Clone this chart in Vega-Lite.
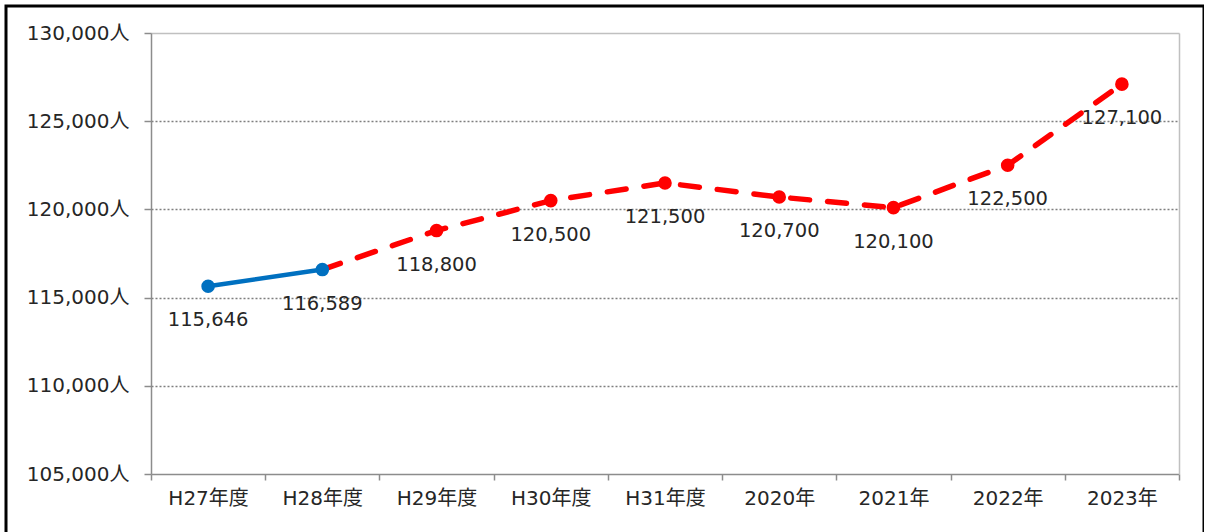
{
  "$schema": "https://vega.github.io/schema/vega-lite/v6.json",
  "width": 1198,
  "height": 528,
  "autosize": {"type": "none"},
  "padding": {"left": 6, "top": 6, "right": 0, "bottom": 0},
  "background": "white",
  "config": {
    "view": {"stroke": "#000000", "strokeWidth": 3},
    "font": "DejaVu Sans"
  },
  "data": {
    "values": [
      {"year": "H27年度", "actual": 115646, "label": 115646},
      {"year": "H28年度", "actual": 116589, "forecast": 116589, "label": 116589},
      {"year": "H29年度", "forecast": 118800, "label": 118800},
      {"year": "H30年度", "forecast": 120500, "label": 120500},
      {"year": "H31年度", "forecast": 121500, "label": 121500},
      {"year": "2020年", "forecast": 120700, "label": 120700},
      {"year": "2021年", "forecast": 120100, "label": 120100},
      {"year": "2022年", "forecast": 122500, "label": 122500},
      {"year": "2023年", "forecast": 127100, "label": 127100}
    ]
  },
  "encoding": {
    "x": {
      "field": "year",
      "type": "nominal",
      "sort": ["H27年度", "H28年度", "H29年度", "H30年度", "H31年度", "2020年", "2021年", "2022年", "2023年"],
      "scale": {"type": "band", "domain": ["H27年度", "H28年度", "H29年度", "H30年度", "H31年度", "2020年", "2021年", "2022年", "2023年"], "range": [145, 1173], "paddingInner": 0, "paddingOuter": 0},
      "axis": {
        "title": null,
        "orient": "bottom",
        "offset": -60,
        "tickBand": "extent",
        "labelAngle": 0,
        "labelFont": "DejaVu Sans, Noto Sans CJK JP",
        "labelFontSize": 20,
        "labelColor": "#262626",
        "labelPadding": 8,
        "tickSize": 6,
        "tickColor": "#8c8c8c",
        "tickWidth": 1.5,
        "domainColor": "#8c8c8c",
        "domainWidth": 1.5,
        "grid": false
      }
    }
  },
  "layer": [
    {
      "transform": [{"filter": "datum.forecast != null"}],
      "mark": {"type": "line", "color": "#FF0000", "strokeWidth": 5.5, "strokeDash": [19, 18], "strokeCap": "round"},
      "encoding": {
        "y": {
          "field": "forecast",
          "type": "quantitative",
          "scale": {"domain": [105000, 130000], "range": [468, 27], "nice": false, "zero": false},
          "axis": {
            "title": null,
            "orient": "left",
            "offset": -145,
            "values": [105000, 110000, 115000, 120000, 125000, 130000],
            "labelExpr": "format(datum.value, ',') + '人'",
            "labelFont": "DejaVu Sans, Noto Sans CJK JP",
            "labelFontSize": 20,
            "labelColor": "#262626",
            "labelPadding": 15,
            "tickSize": 7,
            "tickColor": "#8c8c8c",
            "tickWidth": 1.5,
            "domainColor": "#8c8c8c",
            "domainWidth": 1.5,
            "grid": true,
            "gridColor": {"condition": {"test": "datum.value === 130000", "value": "#c0c0c0"}, "value": "#7f7f7f"},
            "gridDash": {"condition": {"test": "datum.value === 130000", "value": []}, "value": [2, 2]},
            "gridWidth": {"condition": {"test": "datum.value === 130000", "value": 1.5}, "value": 1.3},
            "gridOpacity": {"condition": {"test": "datum.value === 105000", "value": 0}, "value": 1}
          }
        }
      }
    },
    {
      "transform": [{"filter": "datum.actual != null"}],
      "mark": {"type": "line", "color": "#0070C0", "strokeWidth": 4.5, "strokeCap": "round"},
      "encoding": {
        "y": {
          "field": "actual",
          "type": "quantitative",
          "axis": {
            "title": null,
            "orient": "right",
            "offset": -25,
            "labels": false,
            "ticks": false,
            "grid": false,
            "domainColor": "#c0c0c0",
            "domainWidth": 1.5
          }
        }
      }
    },
    {
      "transform": [{"filter": "datum.actual == null"}],
      "mark": {"type": "point", "filled": true, "shape": "circle", "size": 185, "color": "#FF0000", "opacity": 1},
      "encoding": {
        "y": {"field": "forecast", "type": "quantitative", "axis": null}
      }
    },
    {
      "transform": [{"filter": "datum.actual != null"}],
      "mark": {"type": "point", "filled": true, "shape": "circle", "size": 185, "color": "#0070C0", "opacity": 1},
      "encoding": {
        "y": {"field": "actual", "type": "quantitative", "axis": null}
      }
    },
    {
      "mark": {"type": "text", "dy": 34, "baseline": "middle", "align": "center", "fontSize": 19.5, "font": "DejaVu Sans", "color": "#262626"},
      "encoding": {
        "y": {"field": "label", "type": "quantitative", "axis": null},
        "text": {"field": "label", "type": "quantitative", "format": ","}
      }
    }
  ],
  "resolve": {"axis": {"y": "independent"}}
}
